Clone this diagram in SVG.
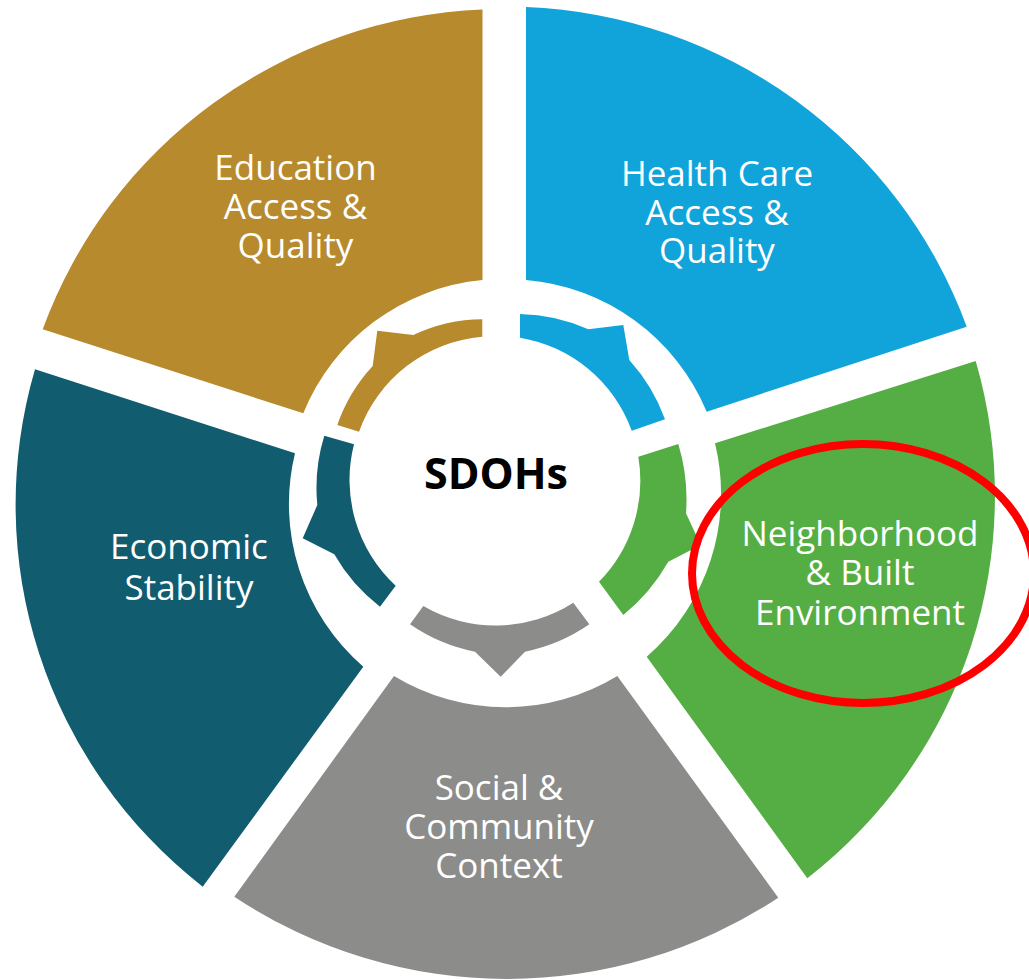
<svg xmlns="http://www.w3.org/2000/svg" width="1029" height="980" viewBox="0 0 1029 980">
<style>
  .lbl { font-family: "Open Sans", "Noto Sans", "Liberation Sans", sans-serif; font-size: 35px; fill: #ffffff; text-anchor: middle; }
  .ctr { font-family: "Open Sans", "Noto Sans", "Liberation Sans", sans-serif; font-size: 43px; font-weight: bold; fill: #000000; text-anchor: middle; }
  .edu { fill: #B68A2D; }
  .hlt { fill: #11A4DA; }
  .grn { fill: #55AE43; }
  .gry { fill: #8C8C8A; }
  .tel { fill: #115C6F; }
</style>
<rect x="0" y="0" width="1029" height="980" fill="#ffffff"/>

<g id="education">
  <path class="edu" d="M 42.7,329.3 A 490 486 0 0 1 482.5,9.5 L 482.5,280.1 A 215 215 0 0 0 303.3,413.3 Z"/>
  <text class="lbl" x="295.5" y="180">Education</text>
  <text class="lbl" x="295.5" y="219">Access &amp;</text>
  <text class="lbl" x="295.5" y="258">Quality</text>
</g>

<g id="health-care">
  <path class="hlt" d="M 526,7 A 490 486 0 0 1 966.7,326.7 L 706.7,411.7 A 215 215 0 0 0 526,280.1 Z"/>
  <text class="lbl" x="717" y="185.5">Health Care</text>
  <text class="lbl" x="717" y="225">Access &amp;</text>
  <text class="lbl" x="717" y="263">Quality</text>
</g>

<g id="neighborhood">
  <path class="grn" d="M 975.7,361 A 490 486 0 0 1 807.3,878.3 L 646.7,656.7 A 215 215 0 0 0 715,443.3 Z"/>
  <text class="lbl" x="860" y="545.5">Neighborhood</text>
  <text class="lbl" x="860" y="584.5">&amp; Built</text>
  <text class="lbl" x="860" y="625">Environment</text>
</g>

<g id="social">
  <path class="gry" d="M 778.3,897.7 A 490 486 0 0 1 234.3,896.7 L 394,676 A 215 215 0 0 0 617.3,676 Z"/>
  <text class="lbl" x="499" y="800">Social &amp;</text>
  <text class="lbl" x="499" y="839">Community</text>
  <text class="lbl" x="499" y="878">Context</text>
</g>

<g id="economic">
  <path class="tel" d="M 202.7,886.7 A 490 486 0 0 1 35,369.3 L 295,453.3 A 215 215 0 0 0 363.3,666.7 Z"/>
  <text class="lbl" x="189" y="559">Economic</text>
  <text class="lbl" x="189" y="600">Stability</text>
</g>

<g id="connectors">
  <path class="edu" d="M 482.3,319.3 A 166 166 0 0 0 413.3,335 L 377.3,330.7 L 372.7,366 A 167 167 0 0 0 337.3,425 L 359,431.7 A 144 144 0 0 1 482.3,336.7 Z"/>
  <path class="hlt" d="M 520,314 A 175 175 0 0 1 588.3,329.3 L 623.3,325 L 629.3,360 A 180 180 0 0 1 665,419.3 L 631.7,430.7 A 144 144 0 0 0 520,337.7 Z"/>
  <path class="grn" d="M 678.3,444 A 190 190 0 0 1 686,513.3 L 700.7,545 L 668.3,561.7 A 190 190 0 0 1 623.3,615 L 599,581.7 A 144 144 0 0 0 638.3,456.7 Z"/>
  <path class="gry" d="M 423.3,606 A 144 144 0 0 0 573.3,602.7 L 589.3,624.3 A 173 173 0 0 1 525,651.7 L 500.7,676.7 L 475,651.7 A 173 173 0 0 1 410,624.3 Z"/>
  <path class="tel" d="M 324.3,435.7 A 178 178 0 0 0 317.3,505 L 302.7,538.3 L 334.3,554.3 A 176 176 0 0 0 380,606.7 L 395.7,585.7 A 144 144 0 0 1 354,444.3 Z"/>
</g>

<g id="sdohs">
  <text class="ctr" x="496" y="489">SDOHs</text>
</g>

<g id="highlight">
  <ellipse cx="863" cy="573.5" rx="171" ry="129.5" fill="none" stroke="#FF0000" stroke-width="8"/>
</g>
</svg>
